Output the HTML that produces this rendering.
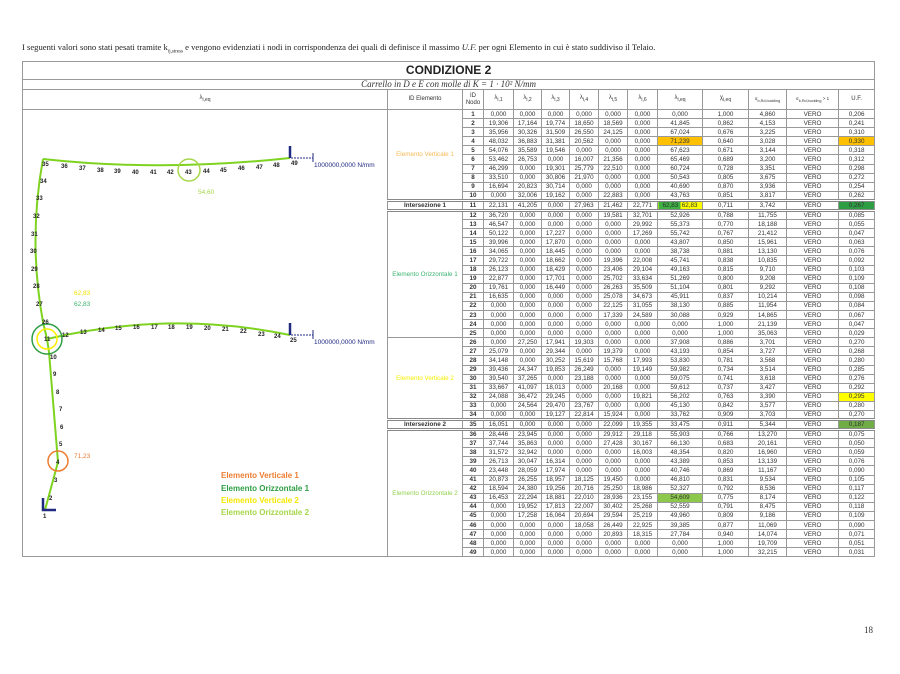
<!DOCTYPE html>
<html><head><meta charset="utf-8"><style>
body{margin:0;width:900px;height:674px;background:#fff;position:relative;overflow:hidden;font-family:"Liberation Sans",sans-serif}
.intro{position:absolute;left:22px;top:42px;font-family:"Liberation Serif",serif;font-size:8.6px;color:#222;white-space:nowrap}
.pn{position:absolute;left:864px;top:625px;font-family:"Liberation Serif",serif;font-size:9px;color:#333}
table{position:absolute;left:22px;top:61px;border-collapse:collapse;table-layout:fixed;width:852px;font-size:6.3px;color:#333}
td{border:1px solid #999;padding:0;text-align:center;overflow:hidden;white-space:nowrap;line-height:7px}
tr.d td{height:8px;box-sizing:border-box}
tr.d{height:9.1px}
td.n{font-weight:bold}
.t1 td{height:17px;font-size:12px;border-bottom:1px solid #999}
.t2 td{height:9px;font-size:9px;font-style:italic;font-family:"Liberation Serif",serif;text-align:right;padding-right:40px}
.hd td{height:19px;font-size:6px}
tr.dbl td{border-top:3px double #888}
.el{font-size:6.3px}
</style></head><body>
<div class="intro">I seguenti valori sono stati pesati tramite k<sub style="font-size:5px">ij,stress</sub> e vengono evidenziati i nodi in corrispondenza dei quali di definisce il massimo <i>U.F.</i> per ogni Elemento in cui è stato suddiviso il Telaio.</div>
<table>
<colgroup><col style="width:365px"><col style="width:75px"><col style="width:21px"><col style="width:30px"><col style="width:28px"><col style="width:28px"><col style="width:29px"><col style="width:29px"><col style="width:30px"><col style="width:45px"><col style="width:46px"><col style="width:38px"><col style="width:52px"><col style="width:36px"></colgroup>
<tr class="t1"><td colspan="14" style="border-left:1px solid #999;border-right:1px solid #999;font-weight:bold;font-size:12px;color:#222">CONDIZIONE 2</td></tr>
<tr class="t2"><td colspan="14" style="text-align:center;padding:0;color:#333">Carrello in D e E con molle di K = 1 · 10² N/mm</td></tr>
<tr class="hd"><td>λ<sub>i,eq</sub></td><td>ID Elemento</td><td>ID<br>Nodo</td><td>λ<sub>i,1</sub></td><td>λ<sub>i,2</sub></td><td>λ<sub>i,3</sub></td><td>λ<sub>i,4</sub></td><td>λ<sub>i,5</sub></td><td>λ<sub>i,6</sub></td><td>λ<sub>i,eq</sub></td><td>χ<sub>i,eq</sub></td><td style="font-size:4.5px">σ<sub>b,Rd,buckling</sub></td><td style="font-size:4.5px">σ<sub>b,Rd,buckling</sub> &gt; 1</td><td>U.F.</td></tr>
<tr class="d"><td rowspan="49" style="border-bottom:1px solid #999"></td><td rowspan="10" class="el" style="color:#f7b955">Elemento Verticale 1</td><td class="n">1</td><td>0,000</td><td>0,000</td><td>0,000</td><td>0,000</td><td>0,000</td><td>0,000</td><td>0,000</td><td>1,000</td><td>4,860</td><td>VERO</td><td>0,206</td></tr>
<tr class="d"><td class="n">2</td><td>19,306</td><td>17,164</td><td>19,774</td><td>18,650</td><td>18,569</td><td>0,000</td><td>41,845</td><td>0,862</td><td>4,153</td><td>VERO</td><td>0,241</td></tr>
<tr class="d"><td class="n">3</td><td>35,956</td><td>30,326</td><td>31,509</td><td>26,550</td><td>24,125</td><td>0,000</td><td>67,024</td><td>0,676</td><td>3,225</td><td>VERO</td><td>0,310</td></tr>
<tr class="d"><td class="n">4</td><td>48,032</td><td>36,883</td><td>31,381</td><td>20,562</td><td>0,000</td><td>0,000</td><td style="background:#ffc000">71,239</td><td>0,640</td><td>3,028</td><td>VERO</td><td style="background:#ffc000">0,330</td></tr>
<tr class="d"><td class="n">5</td><td>54,076</td><td>35,589</td><td>19,546</td><td>0,000</td><td>0,000</td><td>0,000</td><td>67,623</td><td>0,671</td><td>3,144</td><td>VERO</td><td>0,318</td></tr>
<tr class="d"><td class="n">6</td><td>53,462</td><td>26,753</td><td>0,000</td><td>16,007</td><td>21,356</td><td>0,000</td><td>65,469</td><td>0,689</td><td>3,200</td><td>VERO</td><td>0,312</td></tr>
<tr class="d"><td class="n">7</td><td>46,299</td><td>0,000</td><td>19,301</td><td>25,779</td><td>22,510</td><td>0,000</td><td>60,724</td><td>0,728</td><td>3,351</td><td>VERO</td><td>0,298</td></tr>
<tr class="d"><td class="n">8</td><td>33,510</td><td>0,000</td><td>30,806</td><td>21,970</td><td>0,000</td><td>0,000</td><td>50,543</td><td>0,805</td><td>3,675</td><td>VERO</td><td>0,272</td></tr>
<tr class="d"><td class="n">9</td><td>16,694</td><td>20,823</td><td>30,714</td><td>0,000</td><td>0,000</td><td>0,000</td><td>40,690</td><td>0,870</td><td>3,936</td><td>VERO</td><td>0,254</td></tr>
<tr class="d"><td class="n">10</td><td>0,000</td><td>32,006</td><td>19,162</td><td>0,000</td><td>22,883</td><td>0,000</td><td>43,763</td><td>0,851</td><td>3,817</td><td>VERO</td><td>0,262</td></tr>
<tr class="d dbl"><td class="n">Intersezione 1</td><td class="n">11</td><td>22,131</td><td>41,205</td><td>0,000</td><td>27,963</td><td>21,462</td><td>22,771</td><td style="background:linear-gradient(90deg,#3cb043 50%,#ffff00 50%)">62,83&nbsp;&nbsp;62,83</td><td>0,711</td><td>3,742</td><td>VERO</td><td style="background:#2e9e44">0,267</td></tr>
<tr class="d dbl"><td rowspan="14" class="el" style="color:#3cb371">Elemento Orizzontale 1</td><td class="n">12</td><td>36,720</td><td>0,000</td><td>0,000</td><td>0,000</td><td>19,581</td><td>32,701</td><td>52,926</td><td>0,788</td><td>11,755</td><td>VERO</td><td>0,085</td></tr>
<tr class="d"><td class="n">13</td><td>46,547</td><td>0,000</td><td>0,000</td><td>0,000</td><td>0,000</td><td>29,992</td><td>55,373</td><td>0,770</td><td>18,188</td><td>VERO</td><td>0,055</td></tr>
<tr class="d"><td class="n">14</td><td>50,122</td><td>0,000</td><td>17,227</td><td>0,000</td><td>0,000</td><td>17,269</td><td>55,742</td><td>0,767</td><td>21,412</td><td>VERO</td><td>0,047</td></tr>
<tr class="d"><td class="n">15</td><td>39,996</td><td>0,000</td><td>17,870</td><td>0,000</td><td>0,000</td><td>0,000</td><td>43,807</td><td>0,850</td><td>15,961</td><td>VERO</td><td>0,063</td></tr>
<tr class="d"><td class="n">16</td><td>34,065</td><td>0,000</td><td>18,445</td><td>0,000</td><td>0,000</td><td>0,000</td><td>38,738</td><td>0,881</td><td>13,130</td><td>VERO</td><td>0,076</td></tr>
<tr class="d"><td class="n">17</td><td>29,722</td><td>0,000</td><td>18,662</td><td>0,000</td><td>19,396</td><td>22,008</td><td>45,741</td><td>0,838</td><td>10,835</td><td>VERO</td><td>0,092</td></tr>
<tr class="d"><td class="n">18</td><td>26,123</td><td>0,000</td><td>18,429</td><td>0,000</td><td>23,406</td><td>29,104</td><td>49,163</td><td>0,815</td><td>9,710</td><td>VERO</td><td>0,103</td></tr>
<tr class="d"><td class="n">19</td><td>22,877</td><td>0,000</td><td>17,701</td><td>0,000</td><td>25,702</td><td>33,634</td><td>51,269</td><td>0,800</td><td>9,208</td><td>VERO</td><td>0,109</td></tr>
<tr class="d"><td class="n">20</td><td>19,761</td><td>0,000</td><td>16,449</td><td>0,000</td><td>26,263</td><td>35,509</td><td>51,104</td><td>0,801</td><td>9,292</td><td>VERO</td><td>0,108</td></tr>
<tr class="d"><td class="n">21</td><td>16,635</td><td>0,000</td><td>0,000</td><td>0,000</td><td>25,078</td><td>34,673</td><td>45,911</td><td>0,837</td><td>10,214</td><td>VERO</td><td>0,098</td></tr>
<tr class="d"><td class="n">22</td><td>0,000</td><td>0,000</td><td>0,000</td><td>0,000</td><td>22,125</td><td>31,055</td><td>38,130</td><td>0,885</td><td>11,954</td><td>VERO</td><td>0,084</td></tr>
<tr class="d"><td class="n">23</td><td>0,000</td><td>0,000</td><td>0,000</td><td>0,000</td><td>17,339</td><td>24,589</td><td>30,088</td><td>0,929</td><td>14,865</td><td>VERO</td><td>0,067</td></tr>
<tr class="d"><td class="n">24</td><td>0,000</td><td>0,000</td><td>0,000</td><td>0,000</td><td>0,000</td><td>0,000</td><td>0,000</td><td>1,000</td><td>21,139</td><td>VERO</td><td>0,047</td></tr>
<tr class="d"><td class="n">25</td><td>0,000</td><td>0,000</td><td>0,000</td><td>0,000</td><td>0,000</td><td>0,000</td><td>0,000</td><td>1,000</td><td>35,063</td><td>VERO</td><td>0,029</td></tr>
<tr class="d"><td rowspan="9" class="el" style="color:#f5f000">Elemento Verticale 2</td><td class="n">26</td><td>0,000</td><td>27,250</td><td>17,941</td><td>19,303</td><td>0,000</td><td>0,000</td><td>37,908</td><td>0,886</td><td>3,701</td><td>VERO</td><td>0,270</td></tr>
<tr class="d"><td class="n">27</td><td>25,079</td><td>0,000</td><td>29,344</td><td>0,000</td><td>19,379</td><td>0,000</td><td>43,193</td><td>0,854</td><td>3,727</td><td>VERO</td><td>0,268</td></tr>
<tr class="d"><td class="n">28</td><td>34,148</td><td>0,000</td><td>30,252</td><td>15,619</td><td>15,768</td><td>17,993</td><td>53,830</td><td>0,781</td><td>3,568</td><td>VERO</td><td>0,280</td></tr>
<tr class="d"><td class="n">29</td><td>39,436</td><td>24,347</td><td>19,853</td><td>26,249</td><td>0,000</td><td>19,149</td><td>59,982</td><td>0,734</td><td>3,514</td><td>VERO</td><td>0,285</td></tr>
<tr class="d"><td class="n">30</td><td>39,540</td><td>37,265</td><td>0,000</td><td>23,188</td><td>0,000</td><td>0,000</td><td>59,075</td><td>0,741</td><td>3,618</td><td>VERO</td><td>0,276</td></tr>
<tr class="d"><td class="n">31</td><td>33,667</td><td>41,097</td><td>18,013</td><td>0,000</td><td>20,168</td><td>0,000</td><td>59,612</td><td>0,737</td><td>3,427</td><td>VERO</td><td>0,292</td></tr>
<tr class="d"><td class="n">32</td><td>24,088</td><td>36,472</td><td>29,245</td><td>0,000</td><td>0,000</td><td>19,821</td><td>56,202</td><td>0,763</td><td>3,390</td><td>VERO</td><td style="background:#ffff00">0,295</td></tr>
<tr class="d"><td class="n">33</td><td>0,000</td><td>24,564</td><td>29,470</td><td>23,767</td><td>0,000</td><td>0,000</td><td>45,130</td><td>0,842</td><td>3,577</td><td>VERO</td><td>0,280</td></tr>
<tr class="d"><td class="n">34</td><td>0,000</td><td>0,000</td><td>19,127</td><td>22,814</td><td>15,924</td><td>0,000</td><td>33,762</td><td>0,909</td><td>3,703</td><td>VERO</td><td>0,270</td></tr>
<tr class="d dbl"><td class="n">Intersezione 2</td><td class="n">35</td><td>16,051</td><td>0,000</td><td>0,000</td><td>0,000</td><td>22,099</td><td>19,355</td><td>33,475</td><td>0,911</td><td>5,344</td><td>VERO</td><td style="background:#70ad47">0,187</td></tr>
<tr class="d dbl"><td rowspan="14" class="el" style="color:#92d050">Elemento Orizzontale 2</td><td class="n">36</td><td>28,446</td><td>23,945</td><td>0,000</td><td>0,000</td><td>29,912</td><td>29,118</td><td>55,903</td><td>0,766</td><td>13,270</td><td>VERO</td><td>0,075</td></tr>
<tr class="d"><td class="n">37</td><td>37,744</td><td>35,863</td><td>0,000</td><td>0,000</td><td>27,428</td><td>30,167</td><td>66,130</td><td>0,683</td><td>20,161</td><td>VERO</td><td>0,050</td></tr>
<tr class="d"><td class="n">38</td><td>31,572</td><td>32,942</td><td>0,000</td><td>0,000</td><td>0,000</td><td>16,003</td><td>48,354</td><td>0,820</td><td>16,960</td><td>VERO</td><td>0,059</td></tr>
<tr class="d"><td class="n">39</td><td>26,713</td><td>30,047</td><td>16,314</td><td>0,000</td><td>0,000</td><td>0,000</td><td>43,389</td><td>0,853</td><td>13,139</td><td>VERO</td><td>0,076</td></tr>
<tr class="d"><td class="n">40</td><td>23,448</td><td>28,059</td><td>17,974</td><td>0,000</td><td>0,000</td><td>0,000</td><td>40,746</td><td>0,869</td><td>11,167</td><td>VERO</td><td>0,090</td></tr>
<tr class="d"><td class="n">41</td><td>20,873</td><td>26,255</td><td>18,957</td><td>18,125</td><td>19,450</td><td>0,000</td><td>46,810</td><td>0,831</td><td>9,534</td><td>VERO</td><td>0,105</td></tr>
<tr class="d"><td class="n">42</td><td>18,594</td><td>24,380</td><td>19,256</td><td>20,716</td><td>25,250</td><td>18,986</td><td>52,327</td><td>0,792</td><td>8,536</td><td>VERO</td><td>0,117</td></tr>
<tr class="d"><td class="n">43</td><td>16,453</td><td>22,294</td><td>18,881</td><td>22,010</td><td>28,936</td><td>23,155</td><td style="background:#8cc84b">54,609</td><td>0,775</td><td>8,174</td><td>VERO</td><td>0,122</td></tr>
<tr class="d"><td class="n">44</td><td>0,000</td><td>19,952</td><td>17,813</td><td>22,007</td><td>30,402</td><td>25,268</td><td>52,559</td><td>0,791</td><td>8,475</td><td>VERO</td><td>0,118</td></tr>
<tr class="d"><td class="n">45</td><td>0,000</td><td>17,258</td><td>16,064</td><td>20,694</td><td>29,594</td><td>25,219</td><td>49,960</td><td>0,809</td><td>9,186</td><td>VERO</td><td>0,109</td></tr>
<tr class="d"><td class="n">46</td><td>0,000</td><td>0,000</td><td>0,000</td><td>18,058</td><td>26,449</td><td>22,925</td><td>39,385</td><td>0,877</td><td>11,069</td><td>VERO</td><td>0,090</td></tr>
<tr class="d"><td class="n">47</td><td>0,000</td><td>0,000</td><td>0,000</td><td>0,000</td><td>20,893</td><td>18,315</td><td>27,784</td><td>0,940</td><td>14,074</td><td>VERO</td><td>0,071</td></tr>
<tr class="d"><td class="n">48</td><td>0,000</td><td>0,000</td><td>0,000</td><td>0,000</td><td>0,000</td><td>0,000</td><td>0,000</td><td>1,000</td><td>19,709</td><td>VERO</td><td>0,051</td></tr>
<tr class="d"><td class="n">49</td><td>0,000</td><td>0,000</td><td>0,000</td><td>0,000</td><td>0,000</td><td>0,000</td><td>0,000</td><td>1,000</td><td>32,215</td><td>VERO</td><td>0,031</td></tr>
</table>
<svg style="position:absolute;left:0;top:0" width="900" height="674" font-family="Liberation Sans, sans-serif">
<g fill="none" stroke="#7ed321" stroke-width="2">
<path d="M45,510 L58,462 L49,352 L47,339 L43,322 Q28,240 43,159"/>
<path d="M43,159 Q160,172 290,158"/>
<path d="M47,339 Q170,310 290,335"/>
</g>
<g fill="none" stroke-width="1.5">
<circle cx="58" cy="461" r="10" stroke="#ed7d31"/>
<circle cx="47" cy="339" r="15" stroke="#2e9e44"/>
<circle cx="47" cy="339" r="10" stroke="#ffee00"/>
<circle cx="189" cy="170" r="11" stroke="#a6d64a"/>
</g>
<g stroke="#1f2a80" stroke-width="2.5" fill="none">
<path d="M43,498 V510 H56"/>
<path d="M290,146 V158"/><path d="M290,323 V335"/>
</g>
<g stroke="#1f2a80" stroke-width="1" fill="none">
<path d="M291,158 H313" stroke-dasharray="2,1"/><path d="M313,153 V162"/>
<path d="M291,335 H313" stroke-dasharray="2,1"/><path d="M313,330 V339"/>
</g>
<g fill="#1f2a80" font-size="6.5"><text x="314" y="167">1000000,0000 N/mm</text><text x="314" y="344">1000000,0000 N/mm</text></g>
<g font-size="6" font-weight="bold" fill="#222">
<text x="43" y="518">1</text><text x="49" y="500">2</text><text x="54" y="482">3</text><text x="56" y="464">4</text><text x="59" y="446">5</text><text x="60" y="429">6</text><text x="59" y="411">7</text><text x="56" y="394">8</text><text x="53" y="376">9</text><text x="50" y="359">10</text><text x="44" y="341">11</text>
<text x="62" y="337">12</text><text x="80" y="334">13</text><text x="98" y="332">14</text><text x="115" y="330">15</text><text x="133" y="329">16</text><text x="151" y="329">17</text><text x="168" y="329">18</text><text x="186" y="329">19</text><text x="204" y="330">20</text><text x="222" y="331">21</text><text x="240" y="333">22</text><text x="258" y="336">23</text><text x="274" y="338">24</text><text x="290" y="342">25</text>
<text x="42" y="324">26</text><text x="36" y="306">27</text><text x="33" y="288">28</text><text x="31" y="271">29</text><text x="30" y="253">30</text><text x="31" y="236">31</text><text x="33" y="218">32</text><text x="36" y="200">33</text><text x="40" y="183">34</text>
<text x="42" y="166">35</text><text x="61" y="168">36</text><text x="79" y="170">37</text><text x="97" y="172">38</text><text x="114" y="173">39</text><text x="132" y="174">40</text><text x="150" y="174">41</text><text x="167" y="174">42</text><text x="185" y="174">43</text><text x="203" y="173">44</text><text x="220" y="172">45</text><text x="238" y="170">46</text><text x="256" y="169">47</text><text x="273" y="167">48</text><text x="291" y="165">49</text>
</g>
<g font-size="6.5">
<text x="74" y="295" fill="#f2e200">62,83</text><text x="74" y="306" fill="#3cb371">62,83</text>
<text x="198" y="194" fill="#a6d64a">54,60</text><text x="74" y="458" fill="#ed7d31">71,23</text>
</g>
<g font-size="8" font-weight="bold">
<text x="221" y="478" fill="#ed7d31">Elemento Verticale 1</text>
<text x="221" y="491" fill="#2e9e44">Elemento Orizzontale 1</text>
<text x="221" y="503" fill="#f5e800">Elemento Verticale 2</text>
<text x="221" y="515" fill="#a6d64a">Elemento Orizzontale 2</text>
</g>
</svg>
<div class="pn">18</div>
</body></html>
